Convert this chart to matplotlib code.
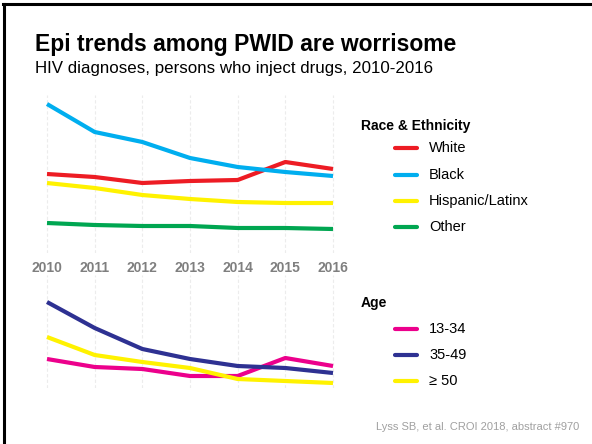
import matplotlib.pyplot as plt
from matplotlib.lines import Line2D

plt.rcParams['font.family'] = ['Liberation Sans', 'DejaVu Sans']

years = [2010, 2011, 2012, 2013, 2014, 2015, 2016]

# race & ethnicity (relative scale)
white = [81, 78, 72, 74, 75, 93, 86]
black = [151, 123, 113, 97, 88, 83, 79]
hispanic = [72, 67, 60, 56, 53, 52, 52]
other = [32, 30, 29, 29, 27, 27, 26]
race_labels = ['White', 'Black', 'Hispanic/Latinx', 'Other']

# age groups (relative scale)
age_13_34 = [31, 23, 21, 14, 14, 32, 24]
age_35_49 = [88, 62, 41, 31, 24, 22, 17]
age_50_up = [53, 35, 28, 22, 11, 9, 7]
age_labels = ['13-34', '35-49', '\u2265 50']

race_colors = ['#ED1C24', '#00AEEF', '#FFF200', '#00A651']
age_colors = ['#EC008C', '#2E3192', '#FFF200']

fig = plt.figure(figsize=(5.92, 4.44), dpi=100)
W, H = 592, 444


def px_axes(left, top, right, bottom):
    return fig.add_axes([left / W, 1 - bottom / H, (right - left) / W, (bottom - top) / H])


def style(ax):
    for s in ax.spines.values():
        s.set_visible(False)
    ax.set_xlim(2009.853, 2016.147)
    ax.set_xticks(years)
    ax.set_yticks([])
    ax.grid(axis='x', color='#ececec', linestyle=(0, (3, 2)), linewidth=0.8)
    ax.tick_params(axis='x', length=0)
    ax.set_axisbelow(True)


ax1 = px_axes(40, 95, 340, 253)
style(ax1)
ax1.set_ylim(2, 160)
for vals, c in zip([white, black, hispanic, other], race_colors):
    ax1.plot(years, vals, color=c, linewidth=3, solid_capstyle='butt')
ax1.set_xticklabels([str(y) for y in years], fontsize=10, fontweight='bold', color='#7f7f7f')
ax1.tick_params(axis='x', pad=6)

ax2 = px_axes(40, 275, 340, 388)
style(ax2)
ax2.set_ylim(2, 115)
ax2.set_xticklabels([])
for vals, c in zip([age_13_34, age_35_49, age_50_up], age_colors):
    ax2.plot(years, vals, color=c, linewidth=3, solid_capstyle='butt')

# titles
fig.text(35 / W, 1 - 45 / H, 'Epi trends among PWID are worrisome', fontsize=16.5,
         fontweight='bold', va='center', ha='left')
fig.text(35 / W, 1 - 68 / H, 'HIV diagnoses, persons who inject drugs, 2010-2016',
         fontsize=12.2, va='center', ha='left')

# legends drawn by hand
def legend_block(title, title_y, labels, colors, row_y, gap):
    fig.text(361 / W, 1 - title_y / H, title, fontsize=10, fontweight='bold', va='center')
    for i, (lab, c) in enumerate(zip(labels, colors)):
        y = 1 - (row_y + i * gap) / H
        fig.add_artist(Line2D([395 / W, 417 / W], [y, y], color=c, linewidth=3,
                              solid_capstyle='round', transform=fig.transFigure))
        fig.text(429 / W, y, lab, fontsize=10.5, va='center')


legend_block('Race & Ethnicity', 126, race_labels, race_colors, 148.5, 26.3)
legend_block('Age', 303, age_labels, age_colors, 328.5, 26.2)

fig.text(579 / W, 1 - 427 / H, 'Lyss SB, et al. CROI 2018, abstract #970', fontsize=8,
         color='#a0a0a0', ha='right', va='center')

# slide frame (top and left edges)
fig.add_artist(Line2D([3.5 / W, 3.5 / W], [0, 1 - 4.5 / H], color='black', linewidth=2.2,
                      transform=fig.transFigure))
fig.add_artist(Line2D([2.5 / W, 1], [1 - 4.5 / H, 1 - 4.5 / H], color='black', linewidth=2.2,
                      transform=fig.transFigure))

fig.savefig('out.png', dpi=100)
